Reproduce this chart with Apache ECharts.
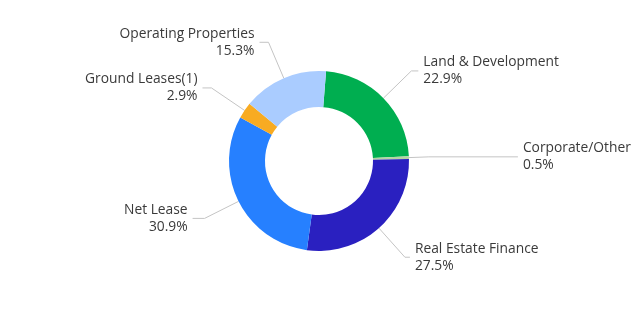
<!DOCTYPE html>
<html>
<head>
<meta charset="utf-8">
<script src="https://cdn.jsdelivr.net/npm/echarts@6/dist/echarts.min.js"></script>
<style>
html,body{margin:0;padding:0;background:#fff;}
#c{width:637px;height:322px;}
</style>
</head>
<body>
<div id="c"></div>
<script>
const categories = ['Land & Development', 'Corporate/Other', 'Real Estate Finance', 'Net Lease', 'Ground Leases(1)', 'Operating Properties'];
const values = [22.9, 0.5, 27.5, 30.9, 2.9, 15.3];
const colors = ['#00ae50', '#b4d4a4', '#2a20c0', '#2680ff', '#f8ab22', '#aaccff'];
const lineLen = [39, 20, 39, 38, 40, 39];
const lineLen2 = [7, 89, 5, 12, 9, 9];

const chart = echarts.init(document.getElementById('c'), null, {renderer: 'canvas'});
chart.setOption({
  animation: false,
  series: [{
    type: 'pie',
    center: [319, 161],
    radius: [54, 90],
    startAngle: 85.5,
    clockwise: true,
    avoidLabelOverlap: false,
    label: {
      show: true,
      position: 'outside',
      fontFamily: 'Open Sans',
      fontSize: 13.8,
      lineHeight: 17,
      padding: [3, 0, 0, 0],
      color: '#3a3a3a',
      distanceToLabelLine: 5,
      formatter: p => p.name + '\n' + values[p.dataIndex].toFixed(1) + '%'
    },
    labelLine: {
      show: true,
      lineStyle: {color: '#c4c4c4', width: 1}
    },
    itemStyle: {borderWidth: 0},
    data: categories.map((n, i) => ({
      name: n,
      value: values[i],
      itemStyle: {color: colors[i]},
      labelLine: {length: lineLen[i], length2: lineLen2[i]}
    }))
  }]
});
</script>
</body>
</html>
